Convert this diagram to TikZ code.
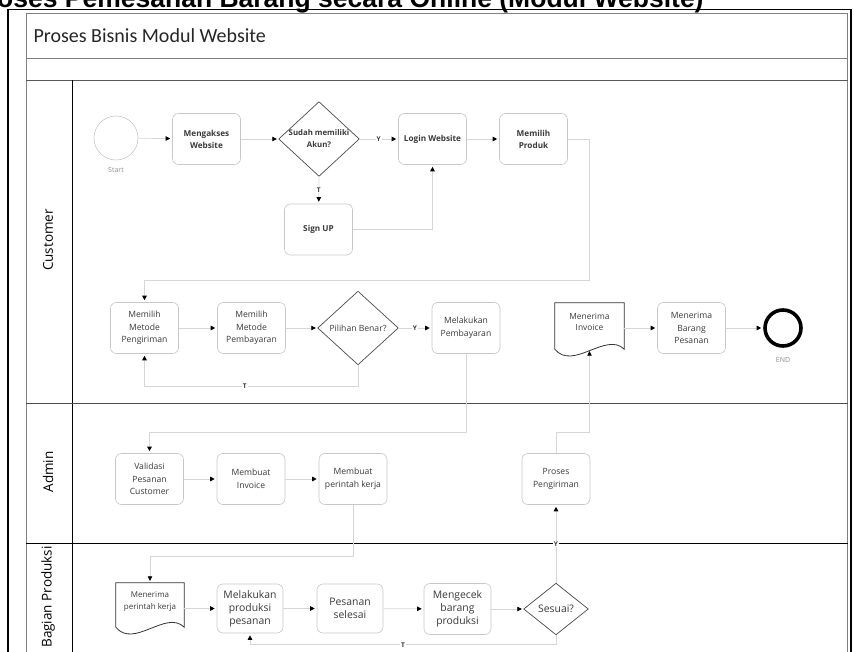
\documentclass[tikz,border=0pt]{standalone}
\usepackage{fontspec}
\setmainfont{Open Sans}
\newfontfamily\headfont{Carlito}
\newfontfamily\titlefont{Liberation Sans}
\usetikzlibrary{arrows.meta}
\definecolor{boxgray}{HTML}{C8C8C8}
\definecolor{linegray}{HTML}{D6D6D6}
\definecolor{txtgray}{HTML}{3A3A3A}
\definecolor{diagray}{HTML}{4A4A4A}
\definecolor{docgray}{HTML}{333333}
\definecolor{framegray}{HTML}{808080}
\definecolor{lbltext}{HTML}{8C8C8C}
\newcommand\docshape[1]{\draw[docedge] (#1.north west) -- (#1.north east) -- (#1.south east)
  .. controls ([xshift=-18pt,yshift=18pt]#1.south east) and ([xshift=18pt,yshift=-22pt]#1.south west) .. (#1.south west) -- cycle;}
\newcommand\diamondof[1]{\draw[diaedge] (#1.north) -- (#1.east) -- (#1.south) -- (#1.west) -- cycle;}
\begin{document}
\begin{tikzpicture}[x=1pt,y=-1pt,
  box/.style={draw=boxgray, line width=0.6pt, rounded corners=6pt, fill=white,
    minimum width=68pt, minimum height=51pt, align=center, text=txtgray,
    inner sep=1pt, font=\fontsize{8.6}{12.5}\selectfont},
  boldbox/.style={box, font=\fontsize{8.2}{12}\selectfont\bfseries},
  bigbox/.style={box, minimum width=66pt, minimum height=49pt, font=\fontsize{10.4}{13}\selectfont},
  diabox/.style={rectangle, inner sep=0pt, align=center, text=txtgray, font=\fontsize{8.6}{12}\selectfont},
  docbox/.style={rectangle, inner sep=0pt, minimum width=69pt, minimum height=46pt},
  doctext/.style={align=center, inner sep=0pt, text=txtgray, font=\fontsize{8.4}{11.5}\selectfont},
  diaedge/.style={draw=diagray, line width=0.7pt},
  docedge/.style={draw=docgray, line width=0.8pt},
  flow/.style={draw=linegray, line width=0.7pt, -{Triangle[length=4.5pt,width=4.5pt,color=black]}, shorten >=2pt},
  lbl/.style={fill=white, inner sep=0.8pt, font=\fontsize{6.5}{7}\selectfont\bfseries, text=black!80},
  lanelbl/.style={rotate=90, font=\fontsize{13.5}{15}\selectfont, text=black},
  small/.style={font=\fontsize{7}{8}\selectfont, text=lbltext},
]
\useasboundingbox (0,0) rectangle (854,652);
\clip (0,0) rectangle (854,652);

% title (cut at top, as in the reference)
\node[anchor=base west, inner sep=0pt, font=\titlefont\bfseries\fontsize{26.5}{30}\selectfont] (title) at (-31,7.5) {Proses Pemesanan Barang secara Online (Modul Website)};

% frame
\draw[black, line width=1.2pt] (8,700) -- (8,9.5) -- (851,9.5) -- (851,700);
\draw[framegray, line width=0.8pt] (26,700) -- (26,13) -- (847.5,13) -- (847.5,700);
\draw[framegray, line width=0.8pt] (26,58) -- (847.5,58);
\draw[black!65, line width=0.8pt] (26,80) -- (847.5,80);
\draw[black, line width=0.8pt] (72,80) -- (72,700);
\draw[black!70, line width=0.8pt] (26,403) -- (847.5,403);
\draw[black, line width=0.8pt] (26,543) -- (847.5,543);

\node[anchor=west, font=\headfont\fontsize{20}{24}\selectfont, text=black!85] (pool) at (30,35.5) {Proses Bisnis Modul Website};

% lane labels
\node[lanelbl] (lanec) at (48,240) {Customer};
\node[lanelbl] (lanea) at (48,472) {Admin};
\node[lanelbl] (laneb) at (48,597) {Bagian Produksi};

% Customer row 1
\node[circle, draw=boxgray, line width=0.6pt, minimum size=44pt, inner sep=0pt] (start) at (116,138) {};
\node[small] (startlbl) at (116,170) {Start};
\node[boldbox] (akses) at (206.5,139) {Mengakses\\Website};
\node[diabox, minimum width=80pt, minimum height=74pt, font=\fontsize{7.8}{12}\selectfont\bfseries] (d1) at (319,139) {Sudah memiliki\\Akun?};
\diamondof{d1}
\node[boldbox] (login) at (432.5,139) {Login Website};
\node[boldbox] (produk) at (533.5,139) {Memilih\\Produk};
\node[boldbox] (signup) at (318.5,229.5) {Sign UP};

% Customer row 2
\node[box] (pengiriman) at (144.5,328) {Memilih\\Metode\\Pengiriman};
\node[box] (pembayaran) at (251.5,328) {Memilih\\Metode\\Pembayaran};
\node[diabox, minimum width=80pt, minimum height=73pt] (d2) at (358,328) {Pilihan Benar?};
\diamondof{d2}
\node[box] (bayar) at (466,328) {Melakukan\\Pembayaran};
\node[docbox] (inv) at (589.5,326) {};
\docshape{inv}
\node[doctext] (invtext) at (589.5,322) {Menerima\\Invoice};
\node[box] (barang) at (691.5,328) {Menerima\\Barang\\Pesanan};
\node[circle, draw=black, line width=3.6pt, minimum size=36pt, inner sep=0pt] (end) at (783,328) {};
\node[small] (endlbl) at (783,360) {END};

% Admin
\node[box] (validasi) at (149.5,479) {Validasi\\Pesanan\\Customer};
\node[box] (minv) at (251,479) {Membuat\\Invoice};
\node[box] (mkerja) at (353,479) {Membuat\\perintah kerja};
\node[box] (proses) at (556,479) {Proses\\Pengiriman};

% Bagian Produksi
\node[docbox, minimum width=68pt, minimum height=44pt] (terima) at (150,605) {};
\docshape{terima}
\node[doctext, font=\fontsize{8}{12}\selectfont] (terimatext) at (150,602) {Menerima\\perintah kerja};
\node[bigbox] (produksi) at (250,608.5) {Melakukan\\produksi\\pesanan};
\node[bigbox] (selesai) at (350,608.5) {Pesanan\\selesai};
\node[bigbox, minimum width=67pt, minimum height=51pt] (cek) at (457.5,609) {Mengecek\\barang\\produksi};
\node[diabox, minimum width=64pt, minimum height=51pt, font=\fontsize{10.4}{12}\selectfont] (d3) at (556,609) {Sesuai?};
\diamondof{d3}

% connectors
\draw[flow] (start) -- (akses);
\draw[flow] (akses) -- (d1.west);
\draw[flow] (d1.east) -- node[lbl] (y1) {Y} (login);
\draw[flow] (d1.south) -- node[lbl] (t1) {T} (signup);
\draw[flow] (signup.east) -| (login.south);
\draw[flow] (login) -- (produk);
\draw[flow] (produk.east) -- ++(22,0) -- ++(0,141) -| (pengiriman.north);
\draw[flow] (pengiriman) -- (pembayaran);
\draw[flow] (pembayaran) -- (d2.west);
\draw[flow] (d2.east) -- node[lbl] (y2) {Y} (bayar);
\draw[flow] (d2.south) -- ++(0,21.5) -| node[lbl, pos=0.265] (t2) {T} (pengiriman.south);
\draw[flow] (inv.east |- barang) -- (barang);
\draw[flow] (barang) -- (end);
\draw[flow] (bayar.south) -- ++(0,79) -| (validasi.north);
\draw[flow] (validasi) -- (minv);
\draw[flow] (minv) -- (mkerja);
\draw[flow] (mkerja.south) -- ++(0,52) -| (terima.north);
\draw[flow] (proses.north) -- ++(0,-21) -| (inv.south);
\draw[flow] (terima.east |- produksi) -- (produksi);
\draw[flow] (produksi) -- (selesai);
\draw[flow] (selesai) -- (cek);
\draw[flow] (cek) -- (d3.west);
\draw[flow] (d3.north) -- node[lbl] (y3) {Y} (proses.south);
\draw[flow] (d3.south) -- ++(0,10) -| node[lbl, pos=0.25] (t3) {T} (produksi.south);
\end{tikzpicture}
\end{document}
